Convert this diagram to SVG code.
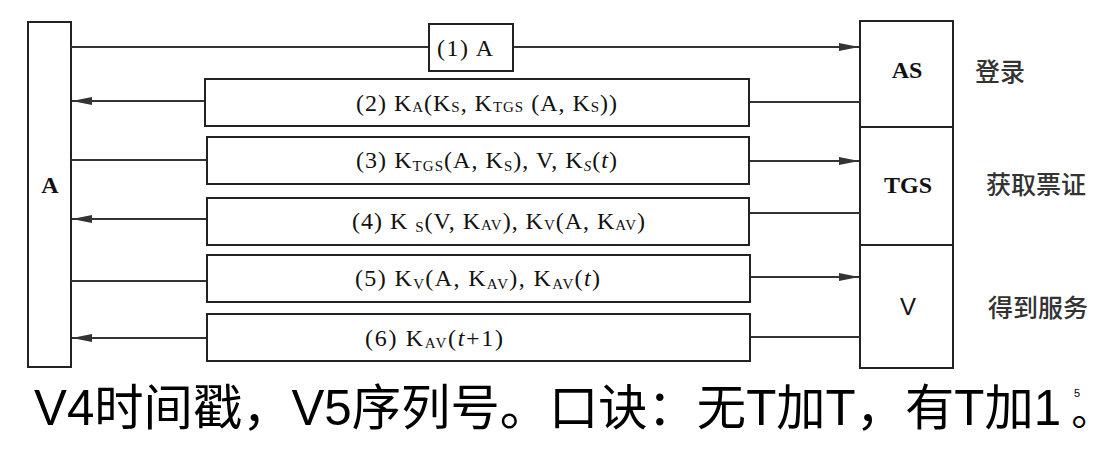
<svg xmlns="http://www.w3.org/2000/svg" width="1105" height="449" viewBox="0 0 1105 449">
<style>
.box{fill:#fff;stroke:#222;stroke-width:2}
.ln{stroke:#333;stroke-width:1.8;fill:none}
.lbl{font-family:"Liberation Serif","Times New Roman",serif;font-size:24px;fill:#111}
.sb{font-size:15px}
.nd{font-family:"Liberation Serif","Times New Roman",serif;font-size:24px;font-weight:bold;fill:#111;text-anchor:middle}
.side{font-family:"Noto Sans CJK SC",sans-serif;font-size:25px;font-weight:500;fill:#333}
.note{font-family:"Liberation Sans","Noto Sans CJK SC",sans-serif;font-size:49.3px;fill:#000}
</style>
<defs>
<marker id="arr" markerUnits="userSpaceOnUse" markerWidth="21" markerHeight="9" refX="20" refY="4" orient="auto">
<path d="M0,0 L20,4 L0,8 z" fill="#333"/>
</marker>
</defs>

<g id="node-A">
<rect class="box" x="28" y="22" width="43" height="345"/>
<text class="nd" x="50" y="193">A</text>
</g>
<g id="node-AS">
<rect class="box" x="860" y="21" width="93" height="106"/>
<text class="nd" x="907" y="78">AS</text>
</g>
<g id="node-TGS">
<rect class="box" x="860" y="127" width="93" height="118"/>
<text class="nd" x="908" y="193">TGS</text>
</g>
<g id="node-V">
<rect class="box" x="860" y="245" width="93" height="123"/>
<text x="908" y="315" style="font-family:'Liberation Sans',sans-serif;font-size:24px;fill:#111;text-anchor:middle">V</text>
</g>

<g id="connectors">
<line class="ln" x1="71" y1="47" x2="429" y2="47"/>
<line class="ln" x1="513" y1="47" x2="859" y2="47" marker-end="url(#arr)"/>
<line class="ln" x1="860" y1="102" x2="749" y2="102"/>
<line class="ln" x1="205" y1="101" x2="72" y2="101" marker-end="url(#arr)"/>
<line class="ln" x1="71" y1="160" x2="207" y2="160"/>
<line class="ln" x1="749" y1="161" x2="859" y2="161" marker-end="url(#arr)"/>
<line class="ln" x1="860" y1="213" x2="749" y2="213"/>
<line class="ln" x1="207" y1="219" x2="72" y2="219" marker-end="url(#arr)"/>
<line class="ln" x1="71" y1="281" x2="207" y2="281"/>
<line class="ln" x1="750" y1="277" x2="859" y2="277" marker-end="url(#arr)"/>
<line class="ln" x1="860" y1="337" x2="750" y2="337"/>
<line class="ln" x1="207" y1="338" x2="72" y2="338" marker-end="url(#arr)"/>
</g>

<g id="msg1">
<rect class="box" x="429" y="24" width="84" height="47"/>
<text class="lbl" x="437" y="56" textLength="56" lengthAdjust="spacing">(1) A</text>
</g>
<g id="msg2">
<rect class="box" x="205" y="79" width="544" height="47"/>
<text class="lbl" x="356" y="111" textLength="261" lengthAdjust="spacing">(2) K<tspan class="sb" dy="1">A</tspan><tspan dy="-1">(K</tspan><tspan class="sb" dy="1">S</tspan><tspan dy="-1">, K</tspan><tspan class="sb" dy="1">TGS</tspan><tspan dy="-1"> (A, K</tspan><tspan class="sb" dy="1">S</tspan><tspan dy="-1">))</tspan></text>
</g>
<g id="msg3">
<rect class="box" x="207" y="137" width="542" height="47"/>
<text class="lbl" x="356" y="168" textLength="261" lengthAdjust="spacing">(3) K<tspan class="sb" dy="3">TGS</tspan><tspan dy="-3">(A, K</tspan><tspan class="sb" dy="3">S</tspan><tspan dy="-3">), V, K</tspan><tspan class="sb" dy="3" font-style="italic">S</tspan><tspan dy="-3">(</tspan><tspan font-style="italic">t</tspan>)</text>
</g>
<g id="msg4">
<rect class="box" x="207" y="198" width="542" height="47"/>
<text class="lbl" x="352" y="229" textLength="293" lengthAdjust="spacing">(4) K <tspan class="sb" dy="3">S</tspan><tspan dy="-3">(V, K</tspan><tspan class="sb" dy="1">AV</tspan><tspan dy="-1">), K</tspan><tspan class="sb" dy="1">V</tspan><tspan dy="-1">(A, K</tspan><tspan class="sb" dy="1">AV</tspan><tspan dy="-1">)</tspan></text>
</g>
<g id="msg5">
<rect class="box" x="207" y="255" width="543" height="47"/>
<text class="lbl" x="355" y="286" textLength="245" lengthAdjust="spacing">(5) K<tspan class="sb" dy="3">V</tspan><tspan dy="-3">(A, K</tspan><tspan class="sb" dy="3">AV</tspan><tspan dy="-3">), K</tspan><tspan class="sb" dy="3">AV</tspan><tspan dy="-3">(</tspan><tspan font-style="italic">t</tspan>)</text>
</g>
<g id="msg6">
<rect class="box" x="207" y="314" width="543" height="47"/>
<text class="lbl" x="365" y="346" textLength="138" lengthAdjust="spacing">(6) K<tspan class="sb" dy="2">AV</tspan><tspan dy="-2">(</tspan><tspan font-style="italic">t</tspan>+1)</text>
</g>

<g id="side-labels">
<text class="side" x="975" y="81">登录</text>
<text class="side" x="986" y="194">获取票证</text>
<text class="side" x="988" y="317">得到服务</text>
</g>

<g id="note">
<text class="note" x="34" y="425">V4时间戳，V5序列号。口诀：无T加T，有T加1</text>
<text x="1079" y="437" text-anchor="middle" style="font-family:'Noto Sans CJK TC',sans-serif;font-size:40px;fill:#000">。</text>
<text x="1074" y="397" style="font-family:'Liberation Sans',sans-serif;font-size:11px;fill:#000">5</text>
</g>
</svg>
